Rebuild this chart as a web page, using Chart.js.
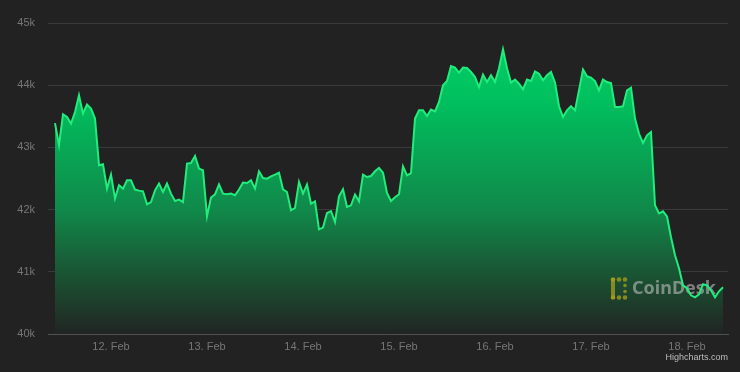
<!DOCTYPE html>
<html>
<head>
<meta charset="utf-8">
<script src="https://cdn.jsdelivr.net/npm/chart.js@4"></script>
<style>
  html, body { margin: 0; padding: 0; background: #222222; }
  #wrap { width: 740px; height: 372px; position: relative; }
</style>
</head>
<body>
<div id="wrap"><canvas id="btc"></canvas></div>
<script>
// BTC price, hourly from 11 Feb 10:00 (hour -14 relative to 12 Feb 00:00)
const firstHour = -14;
const prices = [
    43390, 43034, 43532, 43489, 43383, 43569, 43838, 43543, 43688, 43624,
    43463, 42712, 42728, 42338, 42563, 42177, 42391, 42338, 42471, 42471,
    42322, 42305, 42294, 42085, 42122, 42310, 42418, 42283, 42418, 42257,
    42138, 42161, 42122, 42740, 42749, 42862, 42659, 42632, 41892, 42193,
    42246, 42407, 42257, 42246, 42257, 42230, 42322, 42434, 42428, 42471,
    42338, 42616, 42508, 42498, 42535, 42563, 42595, 42326, 42283, 41989,
    42026, 42444, 42257, 42402, 42096, 42133, 41683, 41711, 41945, 41977,
    41801, 42214, 42326, 42042, 42069, 42241, 42133, 42563, 42524, 42540,
    42616, 42669, 42595, 42267, 42138, 42200, 42246, 42696, 42551, 42588,
    43463, 43596, 43596, 43505, 43608, 43580, 43730, 43998, 44067, 44309,
    44283, 44202, 44283, 44276, 44212, 44132, 43971, 44170, 44051, 44159,
    44051, 44272, 44577, 44272, 44042, 44090, 44026, 43934, 44090, 44067,
    44223, 44186, 44079, 44159, 44212, 44042, 43661, 43489, 43596, 43661,
    43596, 43918, 44251, 44143, 44122, 44067, 43918, 44090, 44051, 44035,
    43650, 43650, 43660, 43918, 43961, 43463, 43222, 43071, 43194, 43248,
    42069, 41940, 41973, 41892, 41555, 41265, 41056, 40783, 40735, 40622,
    40590, 40638, 40800, 40783, 40703, 40590, 40687, 40751
];
const dayLabels = ["12. Feb", "13. Feb", "14. Feb", "15. Feb", "16. Feb", "17. Feb", "18. Feb"];
const yTicks = [40000, 41000, 42000, 43000, 44000, 45000];

const lineColor = "#22ec7c";
const labelColor = "#767676";

const points = prices.map((p, i) => ({ x: firstHour + i, y: p }));

function areaGradient(context) {
    const area = context.chart.chartArea;
    if (!area) return "rgba(0,200,100,0.5)";
    const g = context.chart.ctx.createLinearGradient(0, area.top, 0, area.bottom);
    g.addColorStop(0, "#00d468");
    g.addColorStop(0.25, "#00c05e");
    g.addColorStop(0.6, "#10894a");
    g.addColorStop(0.8, "#1a5634");
    g.addColorStop(1, "#212523");
    return g;
}

// CoinDesk watermark, drawn between the fill and the line
const watermark = {
    id: "watermark",
    afterDatasetDraw(chart, args) {
        if (args.index !== 1) return;
        const ctx = chart.ctx;
        ctx.save();
        ctx.fillStyle = "rgba(170,160,30,0.75)";
        ctx.fillRect(611, 278, 4, 21);
        for (const x of [613, 619, 625]) {
            ctx.beginPath(); ctx.arc(x, 279.5, 2.3, 0, Math.PI * 2); ctx.fill();
            ctx.beginPath(); ctx.arc(x, 297.5, 2.3, 0, Math.PI * 2); ctx.fill();
        }
        for (const y of [285.5, 291.5]) {
            ctx.beginPath(); ctx.arc(625, y, 1.8, 0, Math.PI * 2); ctx.fill();
        }
        ctx.fillStyle = "rgba(190,190,190,0.6)";
        ctx.font = "bold 18px 'Noto Sans', 'Liberation Sans', sans-serif";
        ctx.textBaseline = "middle";
        ctx.textAlign = "left";
        ctx.fillText("CoinDesk", 632, 289);
        ctx.restore();
    },
    afterDraw(chart) {
        const ctx = chart.ctx;
        ctx.save();
        ctx.fillStyle = "#bdbdbd";
        ctx.font = "9px 'Liberation Sans', Arial, sans-serif";
        ctx.textAlign = "right";
        ctx.textBaseline = "middle";
        ctx.fillText("Highcharts.com", 728, 358);
        ctx.restore();
    }
};

const chart = new Chart(document.getElementById("btc"), {
    type: "line",
    data: {
        datasets: [{
            data: points,
            borderColor: lineColor,
            borderWidth: 2,
            fill: false,
            pointRadius: 0,
            tension: 0
        }, {
            data: points,
            borderWidth: 0,
            borderColor: "rgba(0,0,0,0)",
            backgroundColor: areaGradient,
            fill: "start",
            pointRadius: 0,
            tension: 0
        }]
    },
    options: {
        responsive: true,
        maintainAspectRatio: false,
        animation: false,
        layout: { padding: { top: 23, right: 12, bottom: 0, left: 0 } },
        plugins: {
            legend: { display: false },
            tooltip: { enabled: false }
        },
        scales: {
            x: {
                type: "linear",
                min: -15.75,
                max: 154.25,
                afterBuildTicks: (axis) => {
                    axis.ticks = dayLabels.map((_, i) => ({ value: i * 24 }));
                },
                afterFit: (axis) => { axis.height = 38; },
                ticks: {
                    callback: (v, i) => dayLabels[i],
                    color: labelColor,
                    font: { family: "'Liberation Sans', Arial, sans-serif", size: 11 },
                    padding: 6,
                    maxRotation: 0,
                    autoSkip: false
                },
                grid: { display: false, drawTicks: false },
                border: { color: "#505050", width: 1 }
            },
            y: {
                min: 40000,
                max: 45000,
                afterBuildTicks: (axis) => {
                    axis.ticks = yTicks.map(v => ({ value: v }));
                },
                afterFit: (axis) => { axis.width = 48; },
                ticks: {
                    callback: (v) => (v / 1000) + "k",
                    color: labelColor,
                    font: { family: "'Liberation Sans', Arial, sans-serif", size: 11 },
                    padding: 13
                },
                grid: { color: "#3a3a3a", lineWidth: 1, drawTicks: false },
                border: { display: false }
            }
        }
    },
    plugins: [watermark]
});
</script>
</body>
</html>
